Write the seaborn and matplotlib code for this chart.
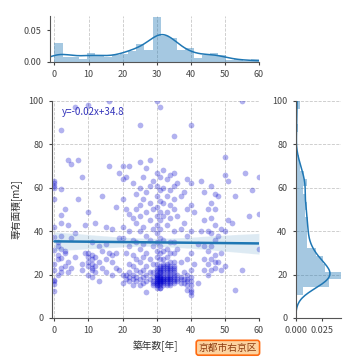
"""
Building age vs. floor area, Kyoto Ukyo-ku
"""
import pandas as pd
import seaborn as sns
import matplotlib.pyplot as plt
from matplotlib.ticker import FormatStrFormatter

# building age [years] and the floor areas [m2] of listings at that age
AGES = [0, 1, 2, 3, 4, 5, 6, 7, 8, 9,
        10, 11, 12, 13, 14, 15, 16, 17, 18, 19,
        20, 21, 22, 23, 24, 25, 26, 27, 28, 29,
        30, 31, 32, 33, 34, 35, 36, 37, 38, 39,
        40, 41, 42, 43, 44, 45, 46, 47, 48, 49,
        50, 51, 52, 53, 55, 56, 57, 58, 60]
AREAS = [
    [12.5, 15.5, 17, 17.5, 25, 31.5, 37.5, 42, 55, 60, 61, 62, 63, 22],
    [20, 27, 33, 35, 29],
    [86.8, 59.5, 47.5, 44, 38, 32, 27.5, 23, 21],
    [31, 30, 24, 50],
    [73, 43, 26, 21],
    [71, 37, 23],
    [97, 39, 28],
    [73, 55],
    [65, 25, 22],
    [43, 30],
    [98, 49, 30, 28, 26, 24, 20],
    [35, 29, 27, 25, 23, 22, 19],
    [44, 28, 24, 21],
    [33, 26, 17],
    [56, 31, 23],
    [42, 34, 27, 21],
    [100, 70, 30],
    [41, 29, 26, 20],
    [51, 30, 23],
    [67, 37, 22],
    [70, 64, 55, 42, 37, 20, 16],
    [65, 50, 30, 20, 18],
    [70, 48, 40, 33, 25, 21, 19, 17],
    [62, 46, 36, 29, 24, 20, 18, 15],
    [57, 50, 44, 35, 27, 22, 19, 17],
    [89, 72, 60, 52, 47, 40, 32, 26, 21, 18, 15],
    [65, 55, 42, 34, 28, 22, 19, 16],
    [69, 58, 49, 38, 30, 24, 20, 17, 12],
    [73, 61, 53, 45, 36, 27, 21, 18],
    [63, 50, 41, 33, 25, 21, 19, 17, 16, 15],
    [100, 67, 61, 56, 51, 47, 43, 39, 35, 31, 28, 25, 23, 22, 21, 20, 20,
     19, 19, 18, 18, 17, 17, 16, 16, 15, 15, 14],
    [97, 65, 59, 54, 49, 45, 41, 37, 33, 30, 27, 24, 23, 22, 21, 21, 20,
     19, 19, 18, 18, 17, 17, 16, 16, 15, 14, 14],
    [68, 60, 53, 47, 36, 31, 27, 25, 24, 23, 22, 21, 20, 19, 18, 18, 17, 17, 16, 15],
    [64, 56, 49, 43, 32, 28, 25, 24, 23, 22, 21, 20, 19, 18, 18, 17, 16, 15],
    [66, 59, 52, 46, 35, 30, 26, 24, 23, 22, 21, 20, 19, 18, 18, 17, 16, 15],
    [84, 67, 61, 55, 50, 40, 35, 30, 26, 24, 23, 22, 21, 20, 19, 18, 17, 16],
    [62, 47, 32, 20, 18, 17],
    [56, 41, 26, 19, 18, 16],
    [58, 44, 21, 18, 16],
    [64, 50, 38, 27, 20, 18, 17, 15, 13],
    [89, 62, 52, 40, 30, 22, 19, 17, 15, 13, 12, 10.6],
    [49, 25],
    [34, 16],
    [63, 40],
    [58, 45, 33, 27, 22],
    [50, 40, 31, 25, 20],
    [61, 53, 46, 39, 33, 27, 22],
    [57, 50, 43, 36, 29, 26, 23],
    [56, 38, 26],
    [41, 30, 22],
    [74, 66, 40, 24],
    [63, 45],
    [44],
    [56, 13],
    [100, 22],
    [67],
    [47],
    [59],
    [65, 48, 32],
]
FIT_TEXT = "y=-0.02x+34.8"
AREA_NAME = "京都市右京区"

sns.set_style("ticks", {"axes.grid": True, "grid.linestyle": "--"})
plt.rcParams['font.family'] = ['Noto Sans CJK JP', 'DejaVu Sans']
plt.rcParams['grid.color'] = '#c8c8c8'
plt.rcParams['grid.linewidth'] = 0.6
plt.rcParams['xtick.labelsize'] = 6.5
plt.rcParams['ytick.labelsize'] = 6.5
plt.rcParams['xtick.color'] = '#444444'
plt.rcParams['ytick.color'] = '#444444'
plt.rcParams['xtick.major.size'] = 2.5
plt.rcParams['ytick.major.size'] = 2.5
plt.rcParams['axes.edgecolor'] = '#555555'

age = [a for a, ys in zip(AGES, AREAS) for _ in ys]
area = [y for ys in AREAS for y in ys]
df = pd.DataFrame({'age': age, 'area': area})

fig = plt.figure(figsize=(3.6, 3.6), dpi=100)
ax_main = fig.add_axes([0.1444, 0.1167, 0.575, 0.6028])
ax_top = fig.add_axes([0.1389, 0.8278, 0.5805, 0.1278])
ax_right = fig.add_axes([0.8214, 0.1167, 0.125, 0.6028])

hist_color = '#1f77b4'

# scatter + regression
sns.regplot(data=df, x='age', y='area', ax=ax_main,
            scatter_kws=dict(color='mediumblue', alpha=0.3, s=17, linewidths=0),
            line_kws=dict(color='#1f77b4', lw=1.8))
ax_main.set_xlim(-0.7, 60)
ax_main.set_ylim(0, 100)
ax_main.set_xticks(range(0, 61, 10))
ax_main.set_yticks(range(0, 101, 20))
ax_main.set_xlabel("築年数[年]", fontsize=7, color='#333333')
ax_main.set_ylabel("専有面積[m2]", fontsize=7, color='#333333')
ax_main.text(2.2, 95, FIT_TEXT, color='#3333bb', fontsize=7, va='center')

# top marginal: age distribution
sns.histplot(x=df['age'], bins=25, stat='density', ax=ax_top,
             color=hist_color, alpha=0.4, linewidth=0)
sns.kdeplot(x=df['age'], ax=ax_top, color=hist_color, lw=1.1, bw_adjust=0.8)
ax_top.set_xlim(-1.3, 60)
ax_top.set_ylim(0, 0.072)
ax_top.set_yticks([0, 0.05])
ax_top.yaxis.set_major_formatter(FormatStrFormatter('%.2f'))
ax_top.set_xticks(range(0, 61, 10))
ax_top.grid(False, axis='y')
ax_top.set_xlabel('')
ax_top.set_ylabel('')

# right marginal: area distribution
sns.histplot(y=df['area'], bins=25, stat='density', ax=ax_right,
             color=hist_color, alpha=0.4, linewidth=0)
sns.kdeplot(y=df['area'], ax=ax_right, color=hist_color, lw=1.1, bw_adjust=0.8)
ax_right.set_ylim(0, 100)
ax_right.set_xlim(0, 0.0435)
ax_right.set_xticks([0, 0.025])
ax_right.xaxis.set_major_formatter(FormatStrFormatter('%.3f'))
ax_right.set_yticks(range(0, 101, 20))
ax_right.grid(False, axis='x')
ax_right.set_xlabel('')
ax_right.set_ylabel('')

for ax in (ax_main, ax_top, ax_right):
    sns.despine(ax=ax)

fig.text(0.633, 0.034, AREA_NAME, fontsize=7, color='#8b3a0f',
         ha='center', va='center',
         bbox=dict(boxstyle='round,pad=0.25', facecolor='#fdd3a0',
                   edgecolor='#ff6a10', linewidth=1.2))

fig.savefig('out.png', dpi=100)
